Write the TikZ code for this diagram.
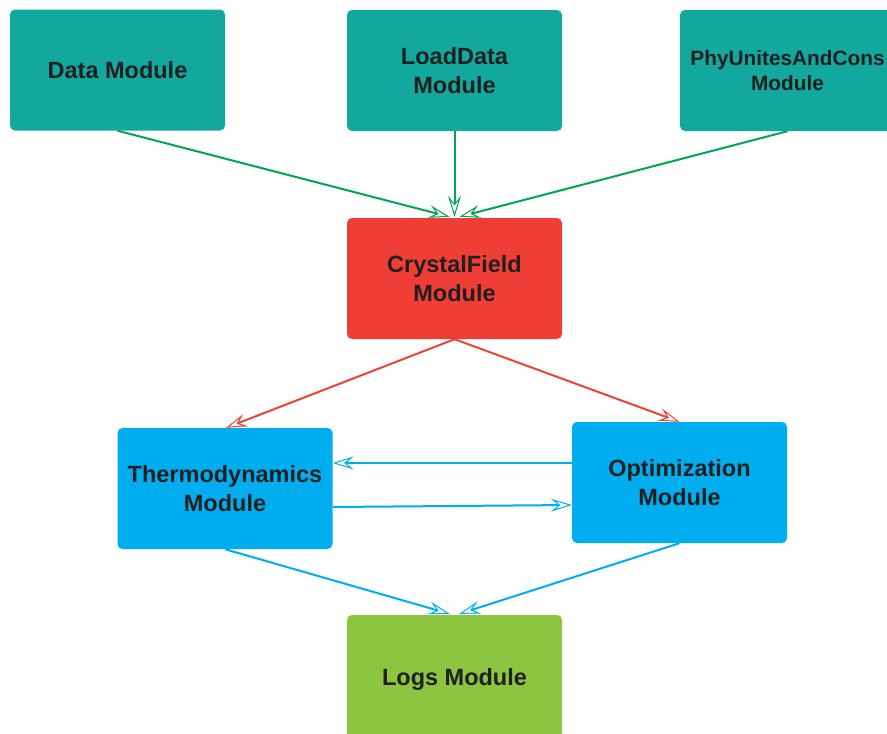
\documentclass[tikz,border=0pt]{standalone}
\usepackage{fontspec}
\setmainfont{Liberation Sans}
\usetikzlibrary{arrows.meta,calc}
\definecolor{tealbox}{HTML}{12A89D}
\definecolor{redbox}{HTML}{EF3E36}
\definecolor{bluebox}{HTML}{00AEEF}
\definecolor{greenbox}{HTML}{8CC540}
\definecolor{txt}{HTML}{231F20}
\definecolor{garrow}{HTML}{00A651}
\definecolor{rarrow}{HTML}{EF4136}
\definecolor{barrow}{HTML}{00AEEF}
\tikzset{
  box/.style={draw=none, rounded corners=5pt, minimum width=215pt, minimum height=121pt,
    inner sep=0pt, align=center, text=txt, font=\fontsize{23.5}{29}\selectfont\bfseries},
  conn/.style={line width=2pt, -{Stealth[open, length=21pt, width=13pt, inset=8pt, line width=1pt]}},
}
\begin{document}
\begin{tikzpicture}[x=1pt,y=-1pt]
\useasboundingbox (0,0) rectangle (887,734);
\clip (0,0) rectangle (887,734);
\node[box, fill=tealbox] (data) at (117.5,70) {Data Module};
\node[box, fill=tealbox] (load) at (454.5,70.5) {LoadData\\Module};
\node[box, fill=tealbox, font=\fontsize{20.8}{26}\selectfont\bfseries] (phy) at (787.5,70.5) {PhyUnitesAndCons\\[-1.5pt]Module};
\node[box, fill=redbox] (cf) at (454.5,278.5) {CrystalField\\Module};
\node[box, fill=bluebox] (th) at (225,488.5) {Thermodynamics\\Module};
\node[box, fill=bluebox] (opt) at (679.5,482.5) {Optimization\\Module};
\node[box, fill=greenbox, minimum height=128pt] (logs) at (454.5,679) {Logs Module};

\draw[conn, garrow] (data.south) -- ($(cf.north)+(-5,-1)$);
\draw[conn, garrow] (load.south) -- ($(cf.north)+(0,-1)$);
\draw[conn, garrow] (phy.south) -- ($(cf.north)+(5,-1)$);

\draw[conn, rarrow] (cf.south) -- ($(th.north)+(1,0)$);
\draw[conn, rarrow] (cf.south) -- (opt.north);

\draw[conn, barrow] ($(opt.west)+(0,-19.5)$) -- ($(th.east)+(0,-25.5)$);
\draw[conn, barrow] ($(th.east)+(0,18.5)$) -- ($(opt.west)+(0,22.5)$);

\draw[conn, barrow] (th.south) -- ($(logs.north)+(-5,-1)$);
\draw[conn, barrow] (opt.south) -- ($(logs.north)+(5,-1)$);
\end{tikzpicture}
\end{document}
